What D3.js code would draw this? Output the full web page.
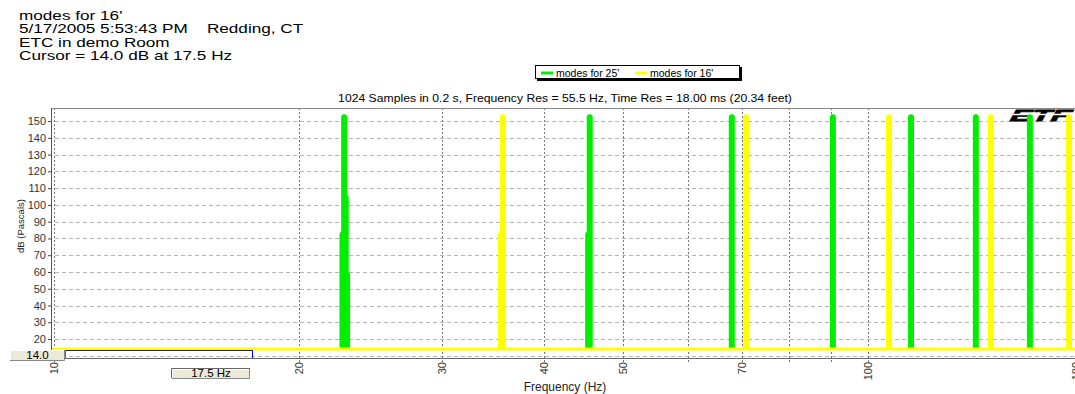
<!DOCTYPE html>
<html>
<head>
<meta charset="utf-8">
<script src="https://cdn.jsdelivr.net/npm/d3@7"></script>
<style>
  body { margin: 0; background: #fff; }
  svg { display: block; font-family: Arial, "Liberation Sans", sans-serif; }
</style>
</head>
<body>
<div id="chart"></div>
<script>
// header text
const titleLines = ["modes for 16'", "5/17/2005 5:53:43 PM    Redding, CT", "ETC in demo Room", "Cursor = 14.0 dB at 17.5 Hz"];
const subTitle = "1024 Samples in 0.2 s, Frequency Res = 55.5 Hz, Time Res = 18.00 ms (20.34 feet)";
const seriesNames = ["modes for 25'", "modes for 16'"];

// axes
const yTicks = [20, 30, 40, 50, 60, 70, 80, 90, 100, 110, 120, 130, 140, 150];
const yGrid = [10, 20, 30, 40, 50, 60, 70, 80, 90, 100, 110, 120, 130, 140, 150];
const xGrid = [10, 20, 30, 40, 50, 60, 70, 80, 90, 100];
const xLabels = [10, 20, 30, 40, 50, 70, 100, 180];

// spectrum spikes (Hz, dB)
const green25Freq = [22.61, 22.72, 22.82, 22.91, 45.3, 45.5, 68.0, 90.5, 112.9, 135.6, 158.0];
const green25Db = [84, 154, 106, 60, 84, 154, 154, 154, 154, 154, 154];
const yellow16Freq = [35.4, 35.6, 70.8, 106.1, 141.5, 176.5];
const yellow16Db = [84, 154, 154, 154, 154, 154];
const floorDb = 14;

// cursor
const cursorHz = 17.5;
const cursorDb = 14.0;

const width = 1075, height = 394;
const margin = { top: 108, bottom: 36, left: 52, right: 0 };
// the source picture is stretched sideways, so text is widened too
const stretch = 1.32;

const svg = d3.select('#chart').append('svg')
  .attr('width', width)
  .attr('height', height);

const x = d3.scaleLog().domain([10, 179.5]).range([54, 1075]);
const y = d3.scaleLinear().domain([8.7, 157.8]).range([height - margin.bottom, margin.top]);
const plotBottom = height - margin.bottom;

// title block
svg.append('g')
  .attr('transform', `translate(19, 0) scale(${stretch}, 1)`)
  .selectAll('text')
  .data(titleLines)
  .join('text')
  .attr('x', 0)
  .attr('y', (d, i) => 20 + i * 13.4)
  .attr('font-size', 13)
  .attr('fill', '#000')
  .style('white-space', 'pre')
  .text(d => d);

// legend
const legend = svg.append('g').attr('class', 'legend');
legend.append('rect').attr('x', 537).attr('y', 67).attr('width', 205).attr('height', 14).attr('fill', '#000');
legend.append('rect').attr('x', 535.5).attr('y', 65.5).attr('width', 204).attr('height', 13).attr('fill', '#fff').attr('stroke', '#000');
const legendItems = [{ name: seriesNames[0], color: '#00ee00', x: 541 }, { name: seriesNames[1], color: '#ffff00', x: 635 }];
legendItems.forEach(item => {
  legend.append('line').attr('x1', item.x).attr('x2', item.x + 12).attr('y1', 73).attr('y2', 73)
    .attr('stroke', item.color).attr('stroke-width', 3);
  legend.append('text').attr('x', item.x + 15).attr('y', 76.5).attr('font-size', 10.5).text(item.name);
});

svg.append('text')
  .attr('transform', `translate(565, 102) scale(1.22, 1)`)
  .attr('text-anchor', 'middle')
  .attr('font-size', 10)
  .text(subTitle);

// grid
svg.append('g')
  .selectAll('line')
  .data(yGrid)
  .join('line')
  .attr('x1', 55).attr('x2', width)
  .attr('y1', d => Math.round(y(d)) + 0.5).attr('y2', d => Math.round(y(d)) + 0.5)
  .attr('stroke', '#b4b4b4')
  .attr('stroke-dasharray', '4,3');

svg.append('g')
  .selectAll('line')
  .data(xGrid)
  .join('line')
  .attr('x1', d => Math.round(x(d)) + 0.5).attr('x2', d => Math.round(x(d)) + 0.5)
  .attr('y1', margin.top).attr('y2', plotBottom + 5)
  .attr('stroke', '#777')
  .attr('stroke-dasharray', '2,2');

// frame
svg.append('line').attr('x1', margin.left - 0.5).attr('x2', width).attr('y1', margin.top + 0.5).attr('y2', margin.top + 0.5)
  .attr('stroke', '#888');
svg.append('line').attr('x1', margin.left - 0.5).attr('x2', margin.left - 0.5).attr('y1', margin.top).attr('y2', plotBottom)
  .attr('stroke', '#555');
svg.append('line').attr('x1', margin.left).attr('x2', width).attr('y1', plotBottom + 0.5).attr('y2', plotBottom + 0.5)
  .attr('stroke', '#666');

// y axis
const yAxis = d3.axisLeft(y).tickValues(yTicks).tickSize(4).tickPadding(2);
const yAxisG = svg.append('g').attr('transform', `translate(${margin.left}, 0)`).call(yAxis);
yAxisG.select('.domain').remove();
yAxisG.selectAll('line').attr('stroke', '#444');
yAxisG.selectAll('text').attr('font-size', 11).attr('fill', '#333').attr('font-family', 'Arial, sans-serif');

svg.append('text')
  .attr('transform', `translate(24, 226) rotate(-90)`)
  .attr('text-anchor', 'middle')
  .attr('font-size', 9.5)
  .attr('fill', '#222')
  .text('dB (Pascals)');

// x axis labels (rotated)
svg.append('g')
  .selectAll('text')
  .data(xLabels)
  .join('text')
  .attr('transform', d => `translate(${x(d) + 4}, ${plotBottom + 4}) rotate(-90)`)
  .attr('text-anchor', 'end')
  .attr('font-size', 11)
  .attr('fill', '#333')
  .text(d => d);

svg.append('text')
  .attr('x', 565).attr('y', 391)
  .attr('text-anchor', 'middle')
  .attr('font-size', 12)
  .attr('fill', '#222')
  .text('Frequency (Hz)');

// logo
const logo = svg.append('g').attr('transform', 'translate(1008, 121) skewX(-30) scale(2.0, 1)');
logo.append('text').attr('x', 0).attr('y', 0).attr('font-size', 16).attr('font-weight', 'bold')
  .attr('fill', '#000').attr('stroke', '#000').attr('stroke-width', 0.8).text('ETF');
svg.append('line').attr('x1', 1005).attr('x2', width).attr('y1', 114.5).attr('y2', 114.5)
  .attr('stroke', '#fff').attr('stroke-width', 1.5);

// spikes
const spikeW = 6;
function spikePath(f, db) {
  const cx = x(f), top = y(db), r = spikeW / 2;
  return `M${cx - r},${y(floorDb)} V${top + r} A${r},${r} 0 0 1 ${cx + r},${top + r} V${y(floorDb)} Z`;
}

svg.append('g')
  .selectAll('path')
  .data(d3.zip(green25Freq, green25Db))
  .join('path')
  .attr('d', d => spikePath(d[0], d[1]))
  .attr('fill', '#00ee00');

svg.append('line')
  .attr('x1', margin.left).attr('x2', width)
  .attr('y1', y(floorDb)).attr('y2', y(floorDb))
  .attr('stroke', '#ffff00').attr('stroke-width', 3);

svg.append('g')
  .selectAll('path')
  .data(d3.zip(yellow16Freq, yellow16Db))
  .join('path')
  .attr('d', d => spikePath(d[0], d[1]))
  .attr('fill', '#ffff00');

// cursor
const cx = Math.round(x(cursorHz)) + 0.5;
svg.append('line').attr('x1', 65).attr('x2', cx).attr('y1', Math.round(y(cursorDb)) + 1.5).attr('y2', Math.round(y(cursorDb)) + 1.5)
  .attr('stroke', '#223').attr('stroke-width', 1);
svg.append('line').attr('x1', 65.5).attr('x2', 65.5).attr('y1', y(cursorDb) + 1).attr('y2', plotBottom)
  .attr('stroke', '#666');
svg.append('line').attr('x1', cx).attr('x2', cx).attr('y1', y(cursorDb) + 1).attr('y2', plotBottom)
  .attr('stroke', '#0000ff');

function valueBox(bx, by, bw, bh, label) {
  const g = svg.append('g');
  g.append('rect').attr('x', bx).attr('y', by).attr('width', bw).attr('height', bh).attr('fill', '#ece9d8');
  g.append('path').attr('d', `M${bx + 0.5},${by + bh} V${by + 0.5} H${bx + bw}`).attr('fill', 'none').attr('stroke', '#fff');
  g.append('path').attr('d', `M${bx},${by + bh - 0.5} H${bx + bw - 0.5} V${by}`).attr('fill', 'none').attr('stroke', '#888');
  g.append('text').attr('x', bx + bw / 2).attr('y', by + bh - 2).attr('text-anchor', 'middle')
    .attr('font-size', 11.5).attr('fill', '#000').text(label);
}
valueBox(10, 350, 55, 11, cursorDb.toFixed(1));
svg.append('path').attr('d', 'M171.5,378 V368.5 H250').attr('fill', 'none').attr('stroke', '#666');
valueBox(172, 369, 78, 10, `${cursorHz} Hz`);
</script>
</body>
</html>
